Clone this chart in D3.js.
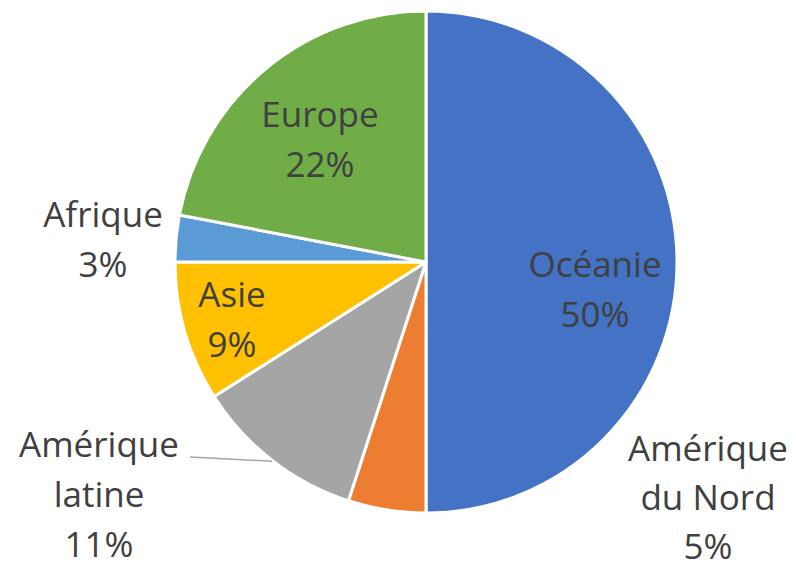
<!DOCTYPE html>
<html>
<head>
<meta charset="utf-8">
<script src="https://cdn.jsdelivr.net/npm/d3@7"></script>
<style>
  body { margin: 0; background: #fff; }
  text { font-family: "Open Sans", "Noto Sans", sans-serif; fill: #404040; }
</style>
</head>
<body>
<script>
// data
var regions = ["Océanie", "Amérique du Nord", "Amérique latine", "Asie", "Afrique", "Europe"];
var labelLines = [["Océanie"], ["Amérique", "du Nord"], ["Amérique", "latine"], ["Asie"], ["Afrique"], ["Europe"]];
var shares = [50, 5, 11, 9, 3, 22];
var colors = ["#4472C4", "#ED7D31", "#A5A5A5", "#FFC000", "#5B9BD5", "#70AD47"];

var width = 796, height = 570;
var cx = 426, cy = 262, radius = 251;
var fontSize = 35, lineH = 50;

// label placement: centre x and first baseline, relative to the pie centre
var labelPos = [
  { x: 169, y: 15 },
  { x: 282, y: 199, lineH: 49 },
  { x: -327, y: 195, leader: true },
  { x: -194, y: 45 },
  { x: -323, y: -35 },
  { x: -106, y: -135 }
];

var svg = d3.select("body").append("svg")
  .attr("width", width)
  .attr("height", height);

var g = svg.append("g")
  .attr("transform", "translate(" + cx + "," + cy + ")");

var pie = d3.pie().sort(null).value(function (d) { return d; });
var arcs = pie(shares);

var arc = d3.arc().innerRadius(0).outerRadius(radius);

g.selectAll(".slice")
  .data(arcs)
  .enter().append("path")
  .attr("class", "slice")
  .attr("d", arc)
  .attr("fill", function (d, i) { return colors[i]; })
  .attr("stroke", "#fff")
  .attr("stroke-width", 3)
  .attr("stroke-linejoin", "round");

// leader line for Amérique latine
arcs.forEach(function (d, i) {
  var p = labelPos[i];
  if (!p.leader) return;
  var a = (d.startAngle + d.endAngle) / 2;
  var ex = Math.sin(a) * radius, ey = -Math.cos(a) * radius;
  g.append("line")
    .attr("x1", ex).attr("y1", ey + 1)
    .attr("x2", p.x + 91).attr("y2", p.y)
    .attr("stroke", "#A6A6A6")
    .attr("stroke-width", 1.5);
});

arcs.forEach(function (d, i) {
  var p = labelPos[i];
  var lh = p.lineH || lineH;
  var lines = labelLines[i].concat([shares[i] + "%"]);
  var t = g.append("text")
    .attr("text-anchor", "middle")
    .attr("font-size", fontSize)
    .attr("transform", "translate(" + p.x + "," + p.y + ")");
  lines.forEach(function (s, k) {
    t.append("tspan")
      .attr("x", 0)
      .attr("y", k * lh)
      .text(s);
  });
});
</script>
</body>
</html>
